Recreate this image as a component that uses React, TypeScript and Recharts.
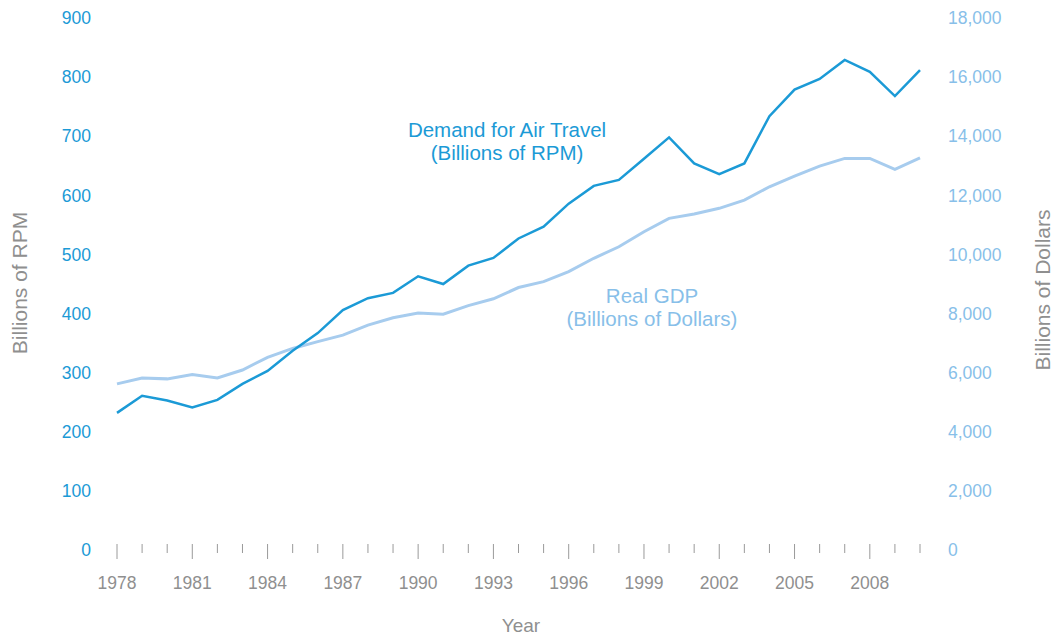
import { LineChart, Line, XAxis, YAxis } from 'recharts'

const YEARS = [
  1978, 1979, 1980, 1981, 1982, 1983, 1984, 1985, 1986, 1987, 1988, 1989,
  1990, 1991, 1992, 1993, 1994, 1995, 1996, 1997, 1998, 1999,
  2000, 2001, 2002, 2003, 2004, 2005, 2006, 2007, 2008, 2009, 2010,
]
const DEMAND_RPM = [
  232, 261, 253, 241, 254, 281, 303, 337, 367, 406, 426, 435,
  463, 450, 481, 494, 527, 547, 586, 616, 626, 662,
  698, 654, 636, 654, 734, 779, 797, 829, 809, 768, 812,
]
const REAL_GDP = [
  5620, 5820, 5790, 5940, 5820, 6090, 6520, 6820, 7050, 7270, 7610, 7860,
  8020, 7980, 8270, 8500, 8880, 9080, 9420, 9870, 10260, 10770,
  11220, 11370, 11560, 11840, 12290, 12650, 12990, 13250, 13250, 12880, 13270,
]
const LABELED_YEARS = [1978, 1981, 1984, 1987, 1990, 1993, 1996, 1999, 2002, 2005, 2008]
const RPM_TICKS = [0, 100, 200, 300, 400, 500, 600, 700, 800, 900]
const GDP_TICKS = [0, 2000, 4000, 6000, 8000, 10000, 12000, 14000, 16000, 18000]

const DARK_BLUE = '#1b9ad6'
const LIGHT_BLUE = '#a7ccee'
const LIGHT_TEXT = '#88bfe9'
const GRAY = '#8f8f8f'
const FONT = '"Liberation Sans", Arial, Helvetica, sans-serif'

const data = YEARS.map((year, i) => ({ year, rpm: DEMAND_RPM[i], gdp: REAL_GDP[i] }))

// tick mark crosses the baseline; the labelled years get a longer mark and text
function YearTick({ x, y, payload }: any) {
  const labeled = LABELED_YEARS.includes(payload.value)
  return (
    <g>
      <line x1={x} x2={x} y1={y - 6} y2={labeled ? y + 9 : y + 3} stroke="#9a9a9a" strokeWidth={1} />
      {labeled && (
        <text x={x} y={y + 39} textAnchor="middle" fill={GRAY} fontSize={17.5} fontFamily={FONT}>
          {payload.value}
        </text>
      )}
    </g>
  )
}

export default function App() {
  return (
    <div style={{ position: 'absolute', left: 0, top: 0, width: 1056, height: 639, background: '#fff' }}>
      <LineChart width={1056} height={639} data={data} margin={{ top: 18, right: 0, bottom: 0, left: 0 }}>
        <XAxis
          dataKey="year"
          type="number"
          domain={[1978, 2010]}
          ticks={YEARS}
          interval={0}
          axisLine={false}
          tickLine={false}
          tickSize={0}
          tickMargin={0}
          height={89}
          tick={<YearTick />}
        />
        <YAxis
          yAxisId="rpm"
          orientation="left"
          domain={[0, 900]}
          ticks={RPM_TICKS}
          width={117}
          axisLine={false}
          tickLine={false}
          tickSize={0}
          tickMargin={26}
          tick={{ fill: DARK_BLUE, fontSize: 17.5, fontFamily: FONT }}
        />
        <YAxis
          yAxisId="gdp"
          orientation="right"
          domain={[0, 18000]}
          ticks={GDP_TICKS}
          width={136}
          axisLine={false}
          tickLine={false}
          tickSize={0}
          tickMargin={28}
          tickFormatter={(v: number) => v.toLocaleString('en-US')}
          tick={{ fill: LIGHT_TEXT, fontSize: 17.5, fontFamily: FONT }}
        />
        <Line
          yAxisId="gdp"
          dataKey="gdp"
          stroke={LIGHT_BLUE}
          strokeWidth={3}
          dot={false}
          isAnimationActive={false}
        />
        <Line
          yAxisId="rpm"
          dataKey="rpm"
          stroke={DARK_BLUE}
          strokeWidth={2.5}
          dot={false}
          isAnimationActive={false}
        />
      </LineChart>
      <svg width={1056} height={639} style={{ position: 'absolute', left: 0, top: 0, pointerEvents: 'none' }}>
        <g fontFamily={FONT}>
          <text x={507} y={137} textAnchor="middle" fill={DARK_BLUE} fontSize={20.5}>Demand for Air Travel</text>
          <text x={507} y={160} textAnchor="middle" fill={DARK_BLUE} fontSize={20.5}>(Billions of RPM)</text>
          <text x={652} y={303} textAnchor="middle" fill={LIGHT_TEXT} fontSize={20.5}>Real GDP</text>
          <text x={652} y={326} textAnchor="middle" fill={LIGHT_TEXT} fontSize={20.5}>(Billions of Dollars)</text>
          <text x={521} y={632} textAnchor="middle" fill={GRAY} fontSize={19}>Year</text>
          <text transform="translate(27,283) rotate(-90)" textAnchor="middle" fill={GRAY} fontSize={21}>Billions of RPM</text>
          <text transform="translate(1050,290) rotate(-90)" textAnchor="middle" fill={GRAY} fontSize={21}>Billions of Dollars</text>
        </g>
      </svg>
    </div>
  )
}
